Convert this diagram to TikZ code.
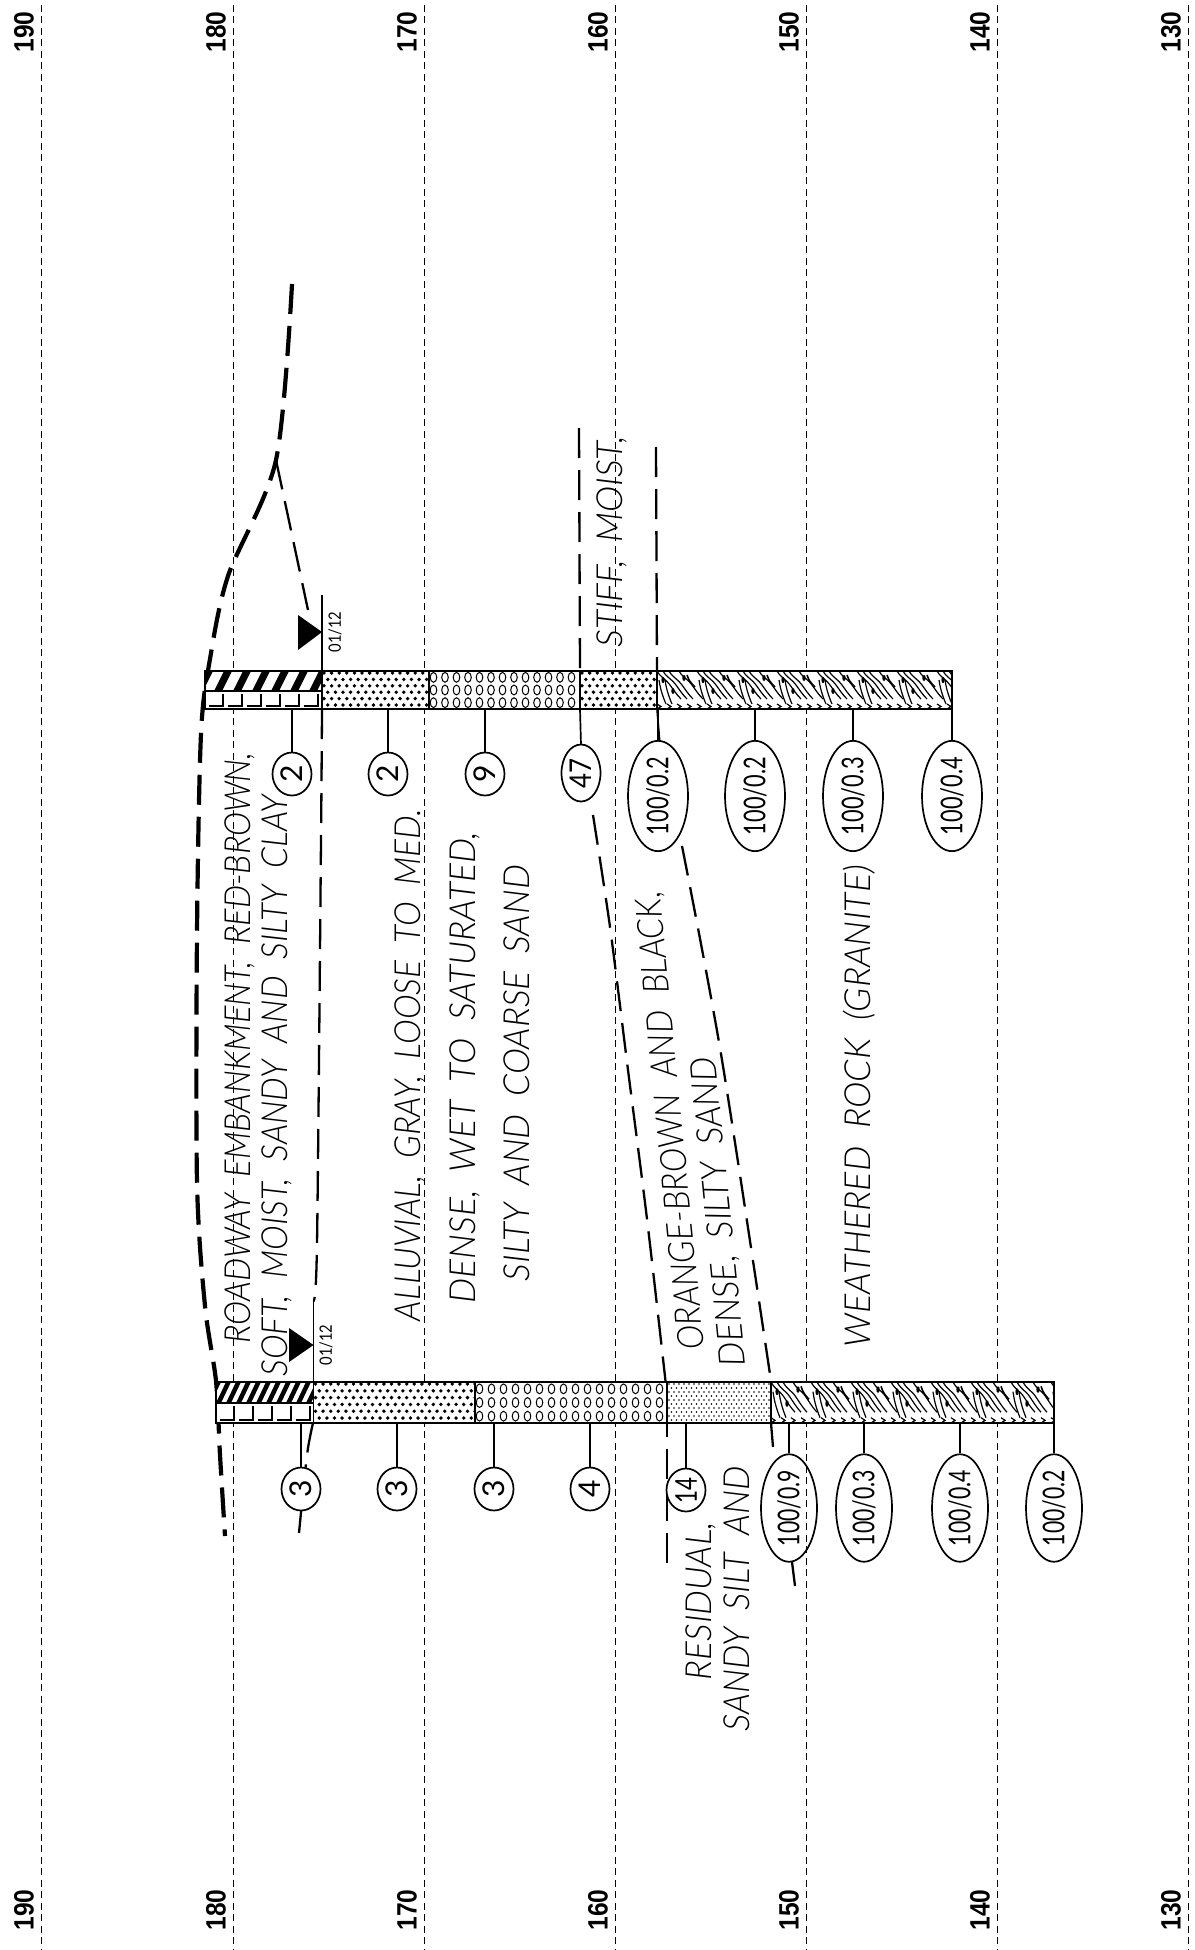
\documentclass[tikz,border=0pt]{standalone}
\usepackage{fontspec}
\usepackage{graphicx}
\usetikzlibrary{shapes.geometric}
\setmainfont{Liberation Sans}
\newfontfamily\cadfont{Lato}[UprightFont=* Light,ItalicFont=* Light Italic]
\newfontfamily\numfont{Lato}
\newcommand\fit[2]{\resizebox{#1pt}{\height}{#2}}
\newcommand\wfit[2]{\resizebox{#1pt}{\height}{\spaceskip=0.5em\relax #2}}
\tikzset{
 gridline/.style={line width=0.9pt,dash pattern=on 7pt off 4.5pt},
 thickdash/.style={line width=4.2pt,dash pattern=on 30pt off 12pt},
 meddash/.style={line width=2.3pt,dash pattern=on 30pt off 12pt},
 axlabel/.style={rotate=90,inner sep=0pt,font=\fontsize{28}{28}\selectfont\bfseries},
 lbl/.style={inner sep=0pt,text height=25pt,text depth=0pt,font=\fontsize{36}{36}\selectfont\cadfont\itshape},
 small/.style={ellipse,draw,fill=white,line width=1.7pt,rotate=90,inner sep=0pt,minimum width=43pt,minimum height=39pt,font=\fontsize{30}{30}\selectfont\numfont},
 big/.style={ellipse,draw,fill=white,line width=1.7pt,rotate=90,inner sep=0pt,minimum width=106pt,minimum height=56pt,font=\fontsize{30}{30}\selectfont\numfont},
 leader/.style={line width=1.7pt},
 boxedge/.style={line width=2pt},
 rockline/.style={line width=1.2pt},
}
\newcommand\dotband[7]{% x0 x1 ytop ybot stepx stepy r
 \begin{scope}\clip (#1,#3) rectangle (#2,#4);
 \pgfmathtruncatemacro\nx{(#2-#1)/#5}\pgfmathtruncatemacro\ny{(#4-#3)/#6}
 \foreach \i in {0,...,\nx}\foreach \j in {0,...,\ny}{
  \fill ({#1+2+(\i+0.5*mod(\j,2))*#5},{#3+2+\j*#6}) circle[radius=#7pt];}
 \end{scope}}
\newcommand\ringband[5]{% x0 x1 ytop ybot stepx
 \begin{scope}\clip (#1,#3) rectangle (#2,#4);
 \pgfmathtruncatemacro\nx{(#2-#1)/#5}
 \pgfmathsetmacro\rowh{(#4-#3)/3}
 \foreach \i in {0,...,\nx}\foreach \j in {0,1,2}{
  \draw[line width=1pt] ({#1+4.5+\i*#5},{#3+(\j+0.5)*\rowh}) ellipse[x radius=3.3pt,y radius=4.9pt];}
 \end{scope}}
\newcommand\rocktile{%
 \foreach \o in {0,6,12,22}{
  \draw[rockline] (\o,0) .. controls ({\o+4},7) and ({\o+9},8) .. ({\o+13},14) .. controls ({\o+16},18) and ({\o+19},23) .. ({\o+24},28);}
 \foreach \o in {2,8}{
  \draw[rockline] (\o,9) .. controls ({\o+1},16) and ({\o+3},24) .. ({\o+7},33);}
 \foreach \o in {0,10,20,30}{
  \draw[rockline] (\o,33) -- ({\o+4},35.5) -- (\o,38);}
 \fill (6,9) ellipse[x radius=1.6pt,y radius=3.2pt];
 \fill (16,20) ellipse[x radius=1.7pt,y radius=3pt];
 \fill (27,7) ellipse[x radius=1.7pt,y radius=3pt];
 \draw[line width=1.6pt] (30,4) .. controls (32,10) and (34,12) .. (38,16);
}
\newcommand\rockband[5]{% x0 x1 ytop ybot yscale
 \begin{scope}\clip (#1,#3) rectangle (#2,#4);
 \foreach \x in {#1,{#1+40},{#1+80},{#1+120},{#1+160},{#1+200},{#1+240},{#1+280}}{
  \begin{scope}[shift={(\x,#3)},yscale=#5]\rocktile\end{scope}}
 \end{scope}}
\newcommand\hatchband[6]{% x0 x1 ytop ymid period blackwidth
 \begin{scope}\clip (#1,#3) rectangle (#2,#4);
 \pgfmathsetmacro\xend{#2+15}\pgfmathsetmacro\xnext{#1+#5}
 \foreach \x in {#1,\xnext,...,\xend}{
  \fill (\x,#3) -- ({\x+#6},#3) -- ({\x+#6-10},#4) -- ({\x-10},#4) -- cycle;}
 \end{scope}}
\newcommand\brickband[4]{% x0 x1 ymid ybot
 \begin{scope}\clip (#1,#3) rectangle (#2,#4);
 \foreach \i in {1,...,6}{
  \draw[line width=1.1pt] ({#1+\i*19-1},{#3+3}) -- ({#1+\i*19-1},{#4-3}) -- ({#1+\i*19-15},{#4-3});}
 \end{scope}}
\begin{document}
\begin{tikzpicture}[x=1pt,y=-1pt]
\useasboundingbox (0,0) rectangle (1194,1950);
\fill[white] (0,0) rectangle (1194,1950);

% strata lines
\draw[thickdash] plot[smooth,tension=0.5] coordinates {(292,284) (276,460) (228,576) (210,659) (201,734) (197,933) (197,1182) (205,1306) (216,1381) (220,1455) (225,1536)};
\draw[meddash] (276,460) -- (308,610);
\draw[meddash] plot[smooth,tension=0.5] coordinates {(322,709) (321,840) (317,1244) (313.5,1300)};
\draw[meddash] plot[smooth,tension=0.5] coordinates {(313,1423) (307,1455) (299,1533)};
\draw[line width=1.3pt] (322,595) -- (322,671);
\draw[line width=1.3pt] (313.5,1300) -- (313.5,1382);
\draw[meddash] (579,428) -- (580,671);
\draw[line width=1.7pt] (580,709) -- (581,745);
\draw[meddash] plot[smooth,tension=0.5] coordinates {(593,815) (610,927) (628,1070) (647,1219) (665.5,1381)};
\draw[meddash,dash phase=16pt] (667,1423) -- (667,1570);
\draw[meddash] (656,447) -- (657,671);
\draw[line width=1.7pt] (657,709) -- (660,745);
\draw[meddash] plot[smooth,tension=0.5] coordinates {(682,846) (721.5,1057) (771,1381)};
\draw[meddash] (771,1423) -- (773,1447);
\draw[meddash] (792,1562) -- (795,1586);

% blow count ellipses, upper boring
\node[small] (a1) at (292,774) {2};
\node[small] (a2) at (388,774) {2};
\node[small] (a3) at (485,774) {9};
\node[small,minimum width=57pt] (a4) at (581,773) {\fit{30}{47}};
\node[big,minimum height=60pt] (a5) at (658,796) {\fit{78}{100/0.2}};
\node[big,minimum height=60pt] (a6) at (755,796) {\fit{78}{100/0.2}};
\node[big,minimum height=60pt] (a7) at (853,796) {\fit{78}{100/0.3}};
\node[big,minimum height=60pt] (a8) at (952,796) {\fit{78}{100/0.4}};
% blow count ellipses, lower boring
\node[small] (b1) at (301,1489) {3};
\node[small] (b2) at (397,1489) {3};
\node[small] (b3) at (494,1489) {3};
\node[small] (b4) at (590,1489) {4};
\node[small] (b5) at (686,1490) {\fit{26}{14}};
\node[big] (b6) at (789,1508) {\fit{76}{100/0.9}};
\node[big] (b7) at (864,1508) {\fit{76}{100/0.3}};
\node[big] (b8) at (960,1508) {\fit{76}{100/0.4}};
\node[big] (b9) at (1054,1508) {\fit{76}{100/0.2}};

% grid
\foreach \gx in {41,233,424,615,806,997,1188}{
 \draw[gridline] (\gx,5) -- (\gx,1950);}

% upper boring
\fill[white] (205,671) rectangle (952,709);
\hatchband{205}{322}{671}{691}{19}{8}
\brickband{205}{322}{691}{709}
\dotband{322}{429}{671}{709}{7.6}{6.4}{1.9}
\ringband{429}{580}{671}{709}{11.5}
\dotband{580}{657}{671}{709}{7.6}{6.4}{1.9}
\rockband{657}{952}{671}{709}{1}
\draw[boxedge] (205,671) rectangle (952,709);
\draw[boxedge] (205,691) -- (322,691);
\foreach \bx in {322,429,580,657}{\draw[line width=1.5pt] (\bx,671) -- (\bx,709);}
% lower boring
\fill[white] (216,1382) rectangle (1054,1423);
\hatchband{216}{313.5}{1382}{1403}{10}{5}
\brickband{216}{313.5}{1403}{1423}
\dotband{313.5}{475}{1382}{1423}{7.6}{6.8}{1.9}
\ringband{475}{667}{1382}{1423}{12}
\dotband{667}{771}{1382}{1423}{5}{4}{0.9}
\rockband{771}{1054}{1382}{1423}{1.08}
\draw[boxedge] (216,1382) rectangle (1054,1423);
\draw[boxedge] (216,1403) -- (313.5,1403);
\foreach \bx in {313.5,475,667,771}{\draw[line width=1.5pt] (\bx,1382) -- (\bx,1423);}

% leaders
\coordinate (pa1) at (292,709);\coordinate (pa2) at (388,709);\coordinate (pa3) at (485,709);
\coordinate (pa6) at (755,709);\coordinate (pa7) at (853,709);\coordinate (pa8) at (952,709);
\coordinate (pa5) at (658,709);
\foreach \n in {1,2,3,5,6,7,8}{\draw[leader] (pa\n) -- (a\n.east);}
\coordinate (pb1) at (301,1423);\coordinate (pb2) at (397,1423);\coordinate (pb3) at (494,1423);
\coordinate (pb4) at (590,1423);\coordinate (pb5) at (686,1423);\coordinate (pb6) at (789,1423);
\coordinate (pb7) at (864,1423);\coordinate (pb8) at (960,1423);\coordinate (pb9) at (1054,1423);
\foreach \n in {1,...,9}{\draw[leader] (pb\n) -- (b\n.east);}

% water level marks
\fill (322,632) -- (298,615) -- (298,650) -- cycle;
\fill (313.5,1345) -- (289,1328) -- (289,1362) -- cycle;
\node[rotate=90,inner sep=0pt,font=\fontsize{17}{17}\selectfont\numfont] (w1) at (335,632) {\fit{41}{01/12}};
\node[rotate=90,inner sep=0pt,font=\fontsize{17}{17}\selectfont\numfont] (w2) at (326,1345) {\fit{41}{01/12}};

% axis labels
\foreach \gx/\v in {41/190,233/180,424/170,615/160,806/150,997/140,1188/130}{
 \node[axlabel] (top\v) at ({\gx-17},32) {\fit{41}{\v}};
 \node[axlabel] (bot\v) at ({\gx-17},1910) {\fit{41}{\v}};}

% descriptions
\node[lbl,rotate=90] (t1) at (238,1048) {\wfit{591}{ROADWAY EMBANKMENT, RED-BROWN,}};
\node[lbl,rotate=90] (t2) at (275,1086) {\wfit{581}{SOFT, MOIST, SANDY AND SILTY CLAY}};
\node[lbl,rotate=90] (t3) at (408,1065) {\wfit{512}{ALLUVIAL, GRAY, LOOSE TO MED.}};
\node[lbl,rotate=90] (t4) at (463,1068) {\wfit{471}{DENSE, WET TO SATURATED,}};
\node[lbl,rotate=90] (t5) at (517,1073) {\wfit{416}{SILTY AND COARSE SAND}};
\node[lbl,rotate=90] (t6) at (610,542) {\wfit{211}{STIFF, MOIST,}};
\node[lbl,rotate=95.6] (t7) at (669.5,1121) {\wfit{460}{ORANGE-BROWN AND BLACK,}};
\node[lbl,rotate=95.7] (t8) at (718,1212) {\wfit{310}{DENSE, SILTY SAND}};
\node[lbl,rotate=90] (t9) at (699,1601) {\wfit{158}{RESIDUAL,}};
\node[lbl,rotate=90] (t10) at (737,1599) {\wfit{265}{SANDY SILT AND}};
\node[lbl,rotate=90] (t11) at (858,1106) {\wfit{482}{WEATHERED ROCK (GRANITE)}};
\end{tikzpicture}
\end{document}
